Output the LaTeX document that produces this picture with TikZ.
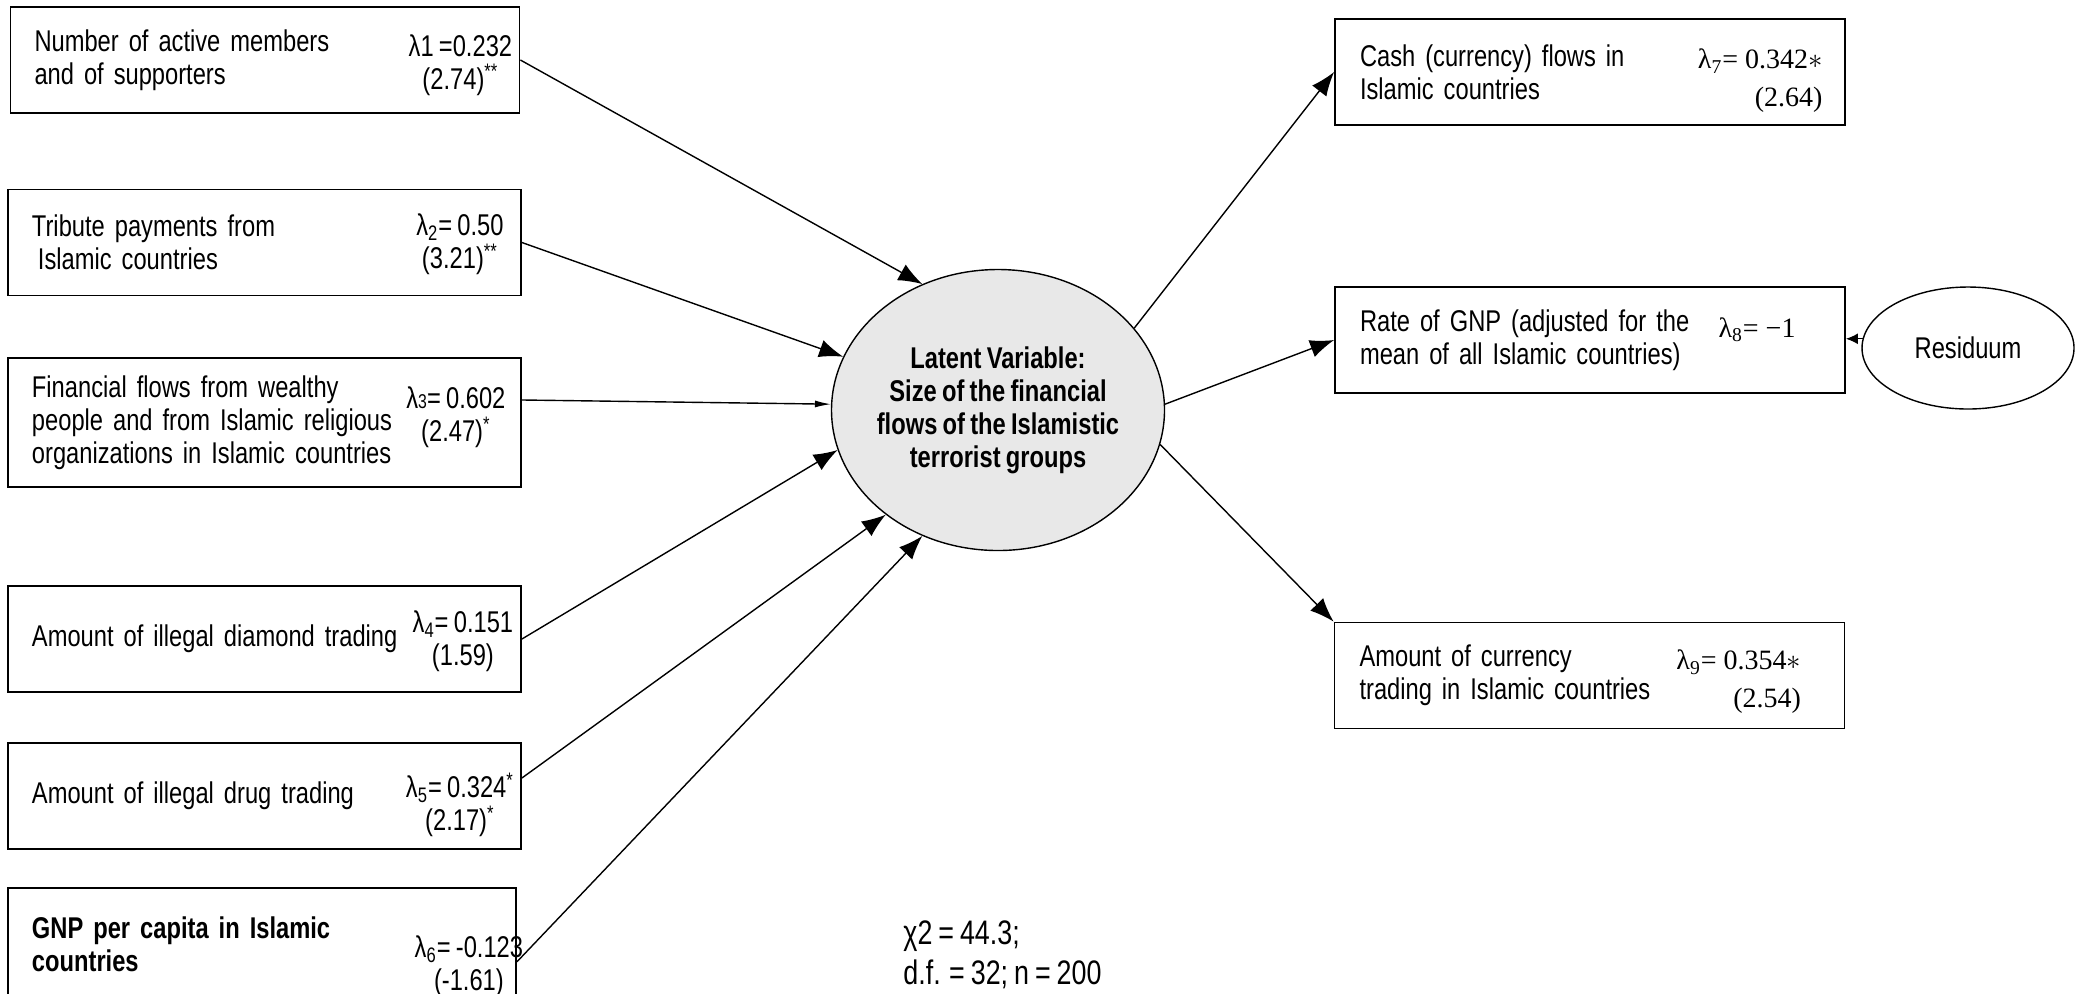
\documentclass[tikz,border=0pt]{standalone}
\usepackage{fontspec}
\setmainfont{Liberation Sans}[FakeStretch=0.79, WordSpace=0.8]
\newfontfamily\timesfont{Liberation Serif}
\usepackage{tikz}
\usetikzlibrary{shapes.geometric,arrows.meta,calc}
\definecolor{latentfill}{HTML}{E8E8E8}
\newcommand{\lam}[1]{λ\textsubscript{#1}}
\tikzstyle{varbox} = [
    draw,
    line width=0.9pt,
    rectangle,
    inner xsep=12pt,
    inner ysep=0pt,
    text width=232.5pt,
    align=left,
    minimum height=53pt
    ]
\tikzstyle{outbox} = [varbox, inner xsep=12.5pt, text width=230pt]
\tikzstyle{coef} = [align=center, inner sep=0pt]
\tikzstyle{rcoef} = [align=right, anchor=east, inner sep=0pt,
    font=\timesfont\fontsize{14}{19}\selectfont]
\tikzstyle{latent} = [
    ellipse,
    draw,
    line width=0.7pt,
    fill=latentfill,
    minimum width=166.5pt,
    minimum height=140.5pt,
    inner xsep=-4pt,
    inner ysep=0pt,
    align=center,
    font=\fontsize{15}{16.5}\selectfont\bfseries
    ]
\tikzstyle{resid} = [ellipse, draw, line width=0.7pt, minimum width=106pt, minimum height=61pt, inner sep=0pt]
\tikzstyle{arr} = [-{Latex[length=12pt,width=9pt]}, line width=0.7pt]
\tikzstyle{narrowarr} = [-{Latex[length=8pt,width=3.5pt]}, line width=0.7pt]
\tikzstyle{smallarr} = [-{Latex[length=6pt,width=5.5pt]}, line width=0.7pt]

\begin{document}
\begin{tikzpicture}[x=0.5pt, y=-0.5pt, every node/.style={font=\fontsize{15}{16.5}\selectfont}]
\useasboundingbox (0,0) rectangle (2080,993);

% indicators
\node[varbox, text width=230.5pt] (b1) at (265,60) {Number of active members\\and of supporters};
\node[varbox] (b2) at (264.5,242.5) {Tribute payments from\\\hspace{3pt}Islamic countries};
\node[varbox, minimum height=64.5pt] (b3) at (264.5,422.5) {Financial flows from wealthy\\people and from Islamic religious\\organizations in Islamic countries};
\node[varbox] (b4) at (264.5,639) {Amount of illegal diamond trading};
\node[varbox] (b5) at (264.5,796) {Amount of illegal drug trading};
\node[varbox, text width=230pt, minimum height=56pt, font=\fontsize{15}{16.5}\selectfont\bfseries] (b6) at (262,944) {GNP per capita in Islamic\\countries};

\node[coef] (l1) at ([xshift=-30pt,yshift=-2.5pt]b1.east) {λ1 =0.232\\(2.74)\textsuperscript{**}};
\node[coef] (l2) at ([xshift=-31pt,yshift=-1pt]b2.east) {\lam{2}= 0.50\\(3.21)\textsuperscript{**}};
\node[coef] (l3) at ([xshift=-33pt,yshift=2.5pt]b3.east) {λ{\fontsize{10}{10}\selectfont 3}= 0.602\\(2.47)\textsuperscript{*}};
\node[coef] (l4) at ([xshift=-29.5pt,yshift=-1.25pt]b4.east) {\lam{4}= 0.151\\(1.59)};
\node[coef] (l5) at ([xshift=-31pt,yshift=-4.5pt]b5.east) {\lam{5}= 0.324\textsuperscript{*}\\(2.17)\textsuperscript{*}};
\node[coef] (l6) at ([xshift=-24pt,yshift=-11pt]b6.east) {\lam{6}= -0.123\\(-1.61)};

% latent variable
\node[latent] (lat) at (998,410) {Latent Variable:\\Size of the financial\\flows of the Islamistic\\terrorist groups};

% outcomes
\node[outbox] (b7) at (1590,72) {Cash (currency) flows in\\Islamic countries};
\node[outbox] (b8) at (1590,340) {Rate of GNP (adjusted for the\\mean of all Islamic countries)};
\node[outbox] (b9) at (1589.5,675.5) {Amount of currency\\trading in Islamic countries};
\node[resid] (res) at (1968,348) {Residuum};

\node[rcoef] (l7) at ([xshift=-11.5pt,yshift=-4.5pt]b7.east) {\lam{7}= 0.342$*$\\(2.64)};
\node[rcoef] (l8) at ([xshift=-25pt,yshift=5pt]b8.east) {\lam{8}= −1};
\node[rcoef] (l9) at ([xshift=-22pt,yshift=-3.25pt]b9.east) {\lam{9}= 0.354$*$\\(2.54)};

\node[anchor=west, align=left, inner sep=0pt, font=\fontsize{17}{20}\selectfont] (stats) at (903,955) {χ2 = 44.3;\\d.f. = 32; n = 200};

\draw[arr] (b1.east) -- (lat.121);
\draw[arr] (b2.east) -- (lat.161);
\draw[narrowarr] (b3.5) -- (lat.178);
\draw[arr] (b4.east) -- (lat.194);
\draw[arr] (b5.4) -- (lat.223);
\draw[arr] (b6.-4) -- (lat.239);
\draw[arr] (lat.31) -- (b7.west);
\draw[arr] (lat.2) -- (b8.west);
\draw[arr] (lat.-12) -- (b9.north west);
\draw[smallarr] (res.175) -- (res.175 -| b8.east);
\end{tikzpicture}
\end{document}
